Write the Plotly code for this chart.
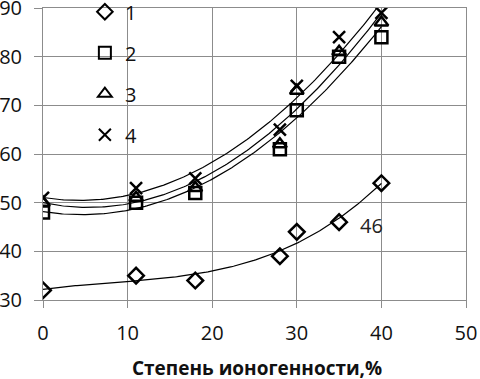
import numpy as np
import plotly.graph_objects as go

x_vals = [0, 11, 18, 28, 30, 35, 40]
s1 = [32, 35, 34, 39, 44, 46, 54]
s2 = [48, 50, 52, 61, 69, 80, 84]
s3 = [50, 51, 53, 62, 73, 81, 87]
s4 = [51, 53, 55, 65, 74, 84, 89]
names = ["1", "2", "3", "4"]
symbols = ["diamond-open", "square-open", "triangle-up-open", "x-thin-open"]
fit_orders = [3, 2, 2, 2]
x_ticks = [0, 10, 20, 30, 40, 50]
y_ticks = [30, 40, 50, 60, 70, 80, 90]
x_title = "Степень ионогенности,%"

FONT = "'Open Sans', Lato, sans-serif"
fig = go.Figure()

xs = np.linspace(0, 40, 200)
for ys, order in zip([s1, s2, s3, s4], fit_orders):
    c = np.polyfit(x_vals, ys, order)
    fig.add_trace(go.Scatter(x=xs, y=np.polyval(c, xs), mode="lines",
                             line=dict(color="black", width=1.2),
                             showlegend=False, hoverinfo="skip"))

for i, (ys, nm, sym) in enumerate(zip([s1, s2, s3, s4], names, symbols)):
    fig.add_trace(go.Scatter(x=x_vals, y=ys, mode="markers", name=nm,
                             legendgroup=nm,
                             marker=dict(symbol=sym, size=12, color="black",
                                         line=dict(color="black", width=2.5))))

fig.add_annotation(x=38.8, y=45.4, text="46", showarrow=False,
                   font=dict(family=FONT, size=20, color="#222"))
fig.add_annotation(x=0.506, y=-0.232, xref="paper", yref="paper",
                   xanchor="center", yanchor="middle", showarrow=False,
                   text="<b>" + x_title + "</b>",
                   font=dict(family=FONT, size=19, color="#111"))

grid = "#8c8c8c"
fig.update_xaxes(range=[0, 50], tickvals=x_ticks, showgrid=True, gridcolor=grid,
                 gridwidth=1, showline=True, linecolor=grid, mirror=True,
                 ticks="outside", ticklen=7, tickcolor=grid, zeroline=False,
                 ticklabelstandoff=8, automargin=False, ticklabeloverflow="allow",
                 tickfont=dict(family=FONT, size=20, color="#111"))
fig.update_yaxes(range=[30, 90], tickvals=y_ticks, showgrid=True, gridcolor=grid,
                 gridwidth=1, showline=True, linecolor=grid, mirror=True,
                 ticks="outside", ticklen=8, tickcolor=grid, zeroline=False,
                 ticklabelstandoff=8, automargin=False, ticklabeloverflow="allow",
                 tickfont=dict(family=FONT, size=20, color="#111"))

fig.update_layout(width=480, height=379, plot_bgcolor="white", paper_bgcolor="white",
                  margin=dict(l=43, r=14, t=8, b=79, autoexpand=False),
                  legend=dict(x=0.099, y=1.054, xanchor="left", yanchor="top",
                              bgcolor="rgba(0,0,0,0)", tracegroupgap=12,
                              font=dict(family=FONT, size=20, color="#111"),
                              itemsizing="constant"),
                  showlegend=True)

fig.write_html("out.html", config={"displayModeBar": False},
               post_script="document.body.style.margin='0';")
